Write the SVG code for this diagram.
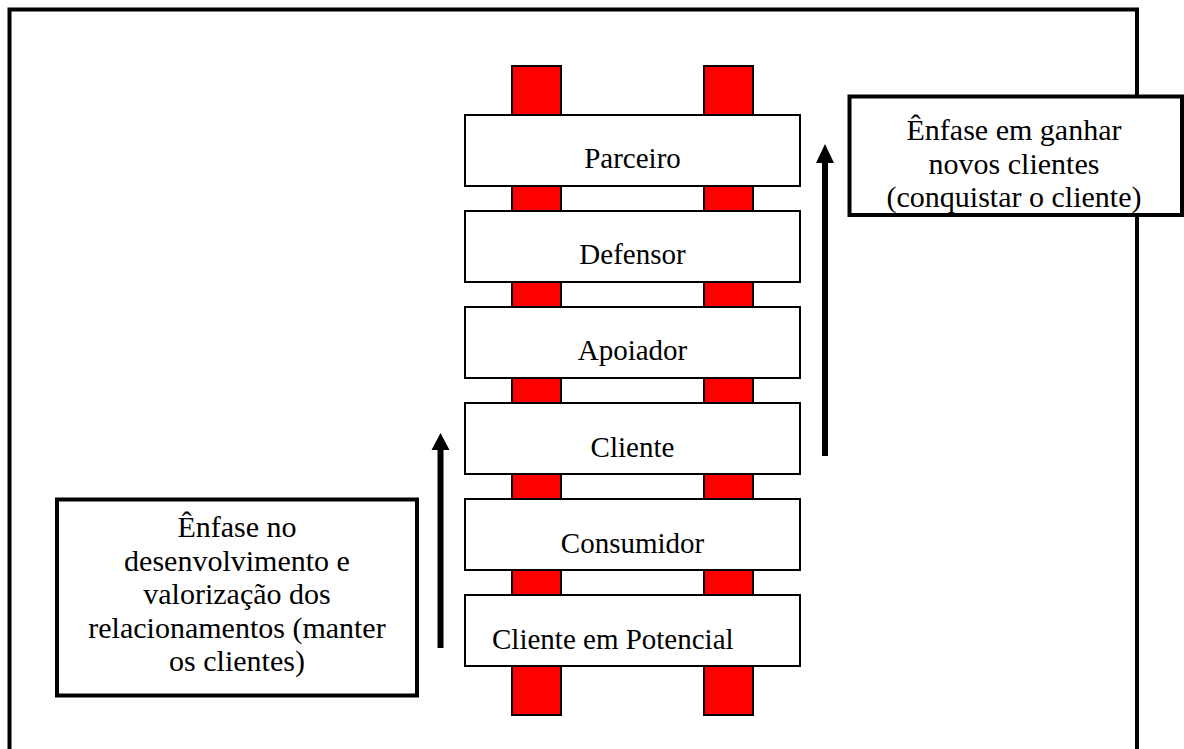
<svg xmlns="http://www.w3.org/2000/svg" width="1184" height="749" viewBox="0 0 1184 749">
<style>
.rail{fill:#FF0000;stroke:#000;stroke-width:2}
.step{fill:#fff;stroke:#000;stroke-width:2}
.note{fill:#fff;stroke:#000;stroke-width:4}
.t{font-family:"Liberation Serif","Times New Roman",serif;font-size:29px;fill:#000}
.n{font-family:"Liberation Serif","Times New Roman",serif;font-size:30px;fill:#000;text-anchor:middle}
.c{text-anchor:middle}
</style>
<rect width="1184" height="749" fill="#fff"/>
<path d="M9.5,760 V9.5 H1137 V760" fill="none" stroke="#000" stroke-width="4"/>
<g id="rails">
<rect class="rail" x="512" y="66" width="49" height="649"/>
<rect class="rail" x="704" y="66" width="49" height="649"/>
</g>
<g id="parceiro"><rect class="step" x="465" y="115" width="335" height="71" stroke-width="2.5"/><text class="t c" x="632.5" y="168">Parceiro</text></g>
<g id="defensor"><rect class="step" x="465" y="211" width="335" height="71"/><text class="t c" x="632.5" y="264">Defensor</text></g>
<g id="apoiador"><rect class="step" x="465" y="307" width="335" height="71"/><text class="t c" x="632.5" y="360">Apoiador</text></g>
<g id="cliente"><rect class="step" x="465" y="403" width="335" height="71"/><text class="t c" x="632.5" y="457">Cliente</text></g>
<g id="consumidor"><rect class="step" x="465" y="499" width="335" height="71"/><text class="t c" x="632.5" y="553">Consumidor</text></g>
<g id="potencial"><rect class="step" x="465" y="595" width="335" height="71"/><text class="t" x="492" y="649">Cliente em Potencial</text></g>
<g id="nota-direita"><rect class="note" x="849.5" y="96.5" width="332.5" height="118.5"/>
<text class="n" x="1014" y="140">Ênfase em ganhar</text>
<text class="n" x="1014" y="173.5">novos clientes</text>
<text class="n" x="1014" y="207">(conquistar o cliente)</text></g>
<g id="nota-esquerda"><rect class="note" x="57" y="499.5" width="360" height="196"/>
<text class="n" x="237" y="537">Ênfase no</text>
<text class="n" x="237" y="570.5">desenvolvimento e</text>
<text class="n" x="237" y="604">valorização dos</text>
<text class="n" x="237" y="637.5">relacionamentos (manter</text>
<text class="n" x="237" y="671">os clientes)</text></g>
<g id="connectors" fill="#000">
<path d="M437.5,648 V450 H431.5 L440.5,433 L449.5,450 H443.5 V648 Z"/>
<path d="M822,456 V163 H816 L825,144 L834,163 H828 V456 Z"/>
</g>
</svg>
